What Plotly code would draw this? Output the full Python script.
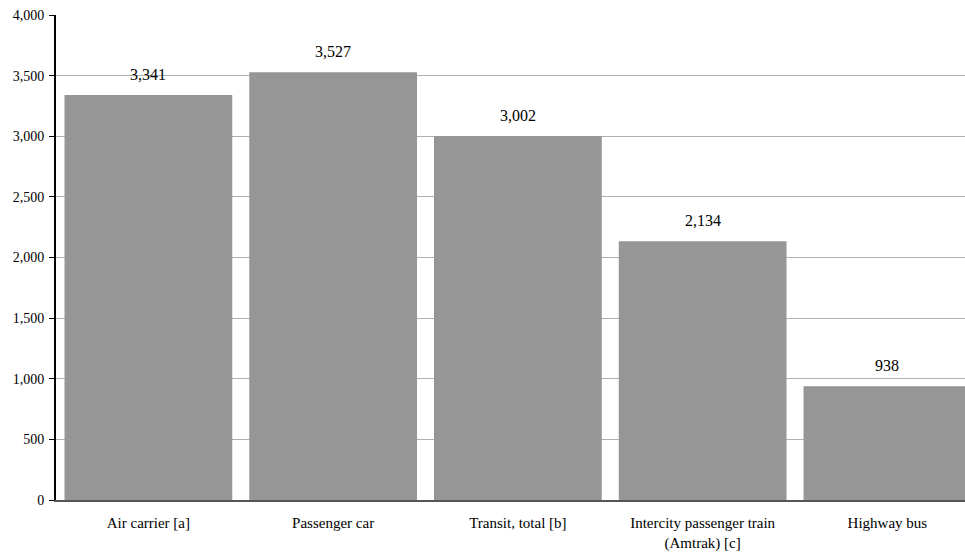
import plotly.graph_objects as go

categories = ["Air carrier [a]", "Passenger car", "Transit, total [b]",
              "Intercity passenger train<br>(Amtrak) [c]", "Highway bus"]
values = [3341, 3527, 3002, 2134, 938]
tick_vals = [0, 500, 1000, 1500, 2000, 2500, 3000, 3500, 4000]
tick_text = ["0", "500", "1,000", "1,500", "2,000", "2,500", "3,000", "3,500", "4,000"]

font_family = "Liberation Serif, DejaVu Serif, serif"

fig = go.Figure(go.Bar(
    x=list(range(len(categories))), y=values,
    marker=dict(color="#969696", line=dict(width=0)),
))

for i, v in enumerate(values):
    fig.add_annotation(x=i, y=v, text=f"{v:,}", showarrow=False,
                       yanchor="bottom", yshift=10,
                       font=dict(size=16, color="#000000", family=font_family))

fig.update_layout(
    width=965, height=552,
    margin=dict(l=56, r=0, t=15, b=52, autoexpand=False),
    paper_bgcolor="white", plot_bgcolor="white",
    bargap=0.092,
    showlegend=False,
    font=dict(family=font_family, size=14, color="#000000"),
    xaxis=dict(range=[-0.5, 4.42], tickmode="array",
               tickvals=list(range(len(categories))), ticktext=categories,
               showline=True, linecolor="#555555", linewidth=2,
               ticks="", tickfont=dict(size=15), showgrid=False,
               ticklabelstandoff=8, automargin=False),
    yaxis=dict(range=[0, 4000], tickvals=tick_vals, ticktext=tick_text,
               showline=True, linecolor="#000000", linewidth=2,
               ticks="outside", ticklen=5, tickcolor="#000000",
               gridcolor="#b0b0b0", gridwidth=1, zeroline=False,
               tickfont=dict(size=14), ticklabelstandoff=2, automargin=False),
)

fig.write_html("out.html")
